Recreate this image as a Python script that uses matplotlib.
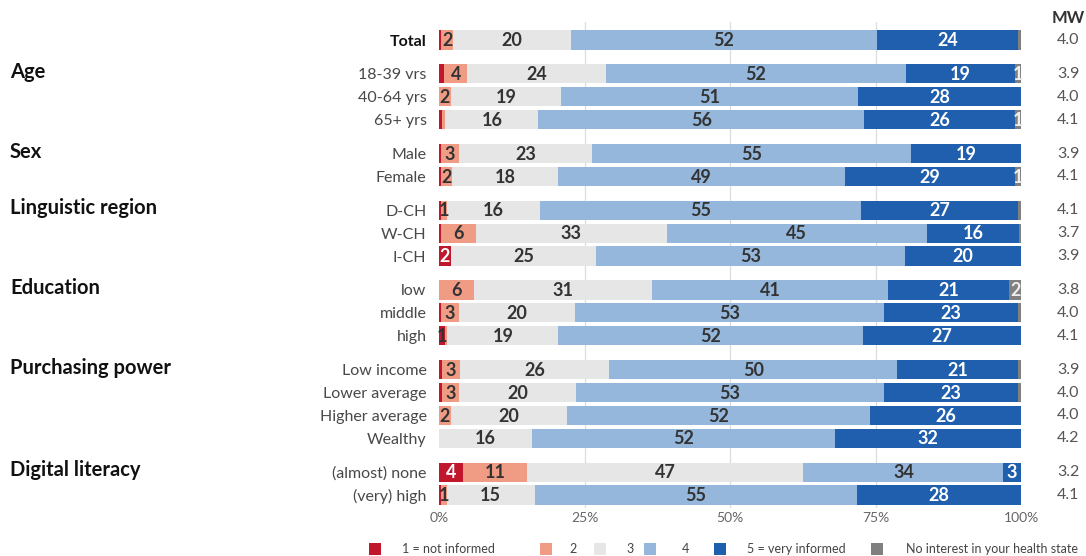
import numpy as np
import matplotlib
matplotlib.use("Agg")
import matplotlib.pyplot as plt
import matplotlib.transforms as mtransforms
from matplotlib.patches import Rectangle

plt.rcParams['font.family'] = ['Lato', 'DejaVu Sans']

# ---- data -------------------------------------------------------------
group_names = ["", "Age", "Sex", "Linguistic region", "Education",
               "Purchasing power", "Digital literacy"]
group_rows = [
    ["Total"],
    ["18-39 vrs", "40-64 yrs", "65+ yrs"],
    ["Male", "Female"],
    ["D-CH", "W-CH", "I-CH"],
    ["low", "middle", "high"],
    ["Low income", "Lower average", "Higher average", "Wealthy"],
    ["(almost) none", "(very) high"],
]

not_informed    = [0.4, 0.9, 0.0, 0.5, 0.4, 0.3, 0.3, 0.4, 2.0, 0.0, 0.4, 1.0, 0.6, 0.5, 0.0, 0.0, 4.0, 0.3]
rather_not      = [2.0, 4.0, 2.0, 0.6, 3.0, 2.0, 1.0, 6.0, 0.0, 6.0, 3.0, 0.4, 3.0, 3.0, 2.0, 0.0, 11.0, 1.0]
neutral         = [20, 24, 19, 16, 23, 18, 16, 33, 25, 31, 20, 19, 26, 20, 20, 16, 47, 15]
rather_informed = [52, 52, 51, 56, 55, 49, 55, 45, 53, 41, 53, 52, 50, 53, 52, 52, 34, 55]
very_informed   = [24, 19, 28, 26, 19, 29, 27, 16, 20, 21, 23, 27, 21, 23, 26, 32, 3, 28]
no_interest     = [0.5, 1.0, 0.0, 1.0, 0.0, 1.0, 0.5, 0.3, 0.0, 2.0, 0.5, 0.0, 0.5, 0.5, 0.0, 0.0, 0.0, 0.0]

mean_values = ["4.0", "3.9", "4.0", "4.1", "3.9", "4.1", "4.1", "3.7", "3.9",
               "3.8", "4.0", "4.1", "3.9", "4.0", "4.0", "4.2", "3.2", "4.1"]

series_names = ["1 = not informed", "2", "3", "4", "5 = very informed",
                "No interest in your health state"]
series_values = [not_informed, rather_not, neutral, rather_informed,
                 very_informed, no_interest]
colors = ["#c0172d", "#f09c85", "#e6e6e6", "#94b7db", "#1f5fad", "#808080"]
label_colors = ["white", "#333333", "#333333", "#333333", "white", "#eeeeee"]

# ---- layout of rows (groups separated by a small gap) -----------------
gap = 0.48
positions, labels, group_pos = [], [], []
y = 0.0
for gi, rows in enumerate(group_rows):
    if gi > 0:
        y += gap
    group_pos.append(y)
    for r in rows:
        positions.append(y)
        labels.append(r)
        y += 1.0
positions = np.array(positions)

vals = np.array(series_values, dtype=float)          # (series, rows)
shares = vals / vals.sum(axis=0) * 100.0

W, H = 1086, 556
fig = plt.figure(figsize=(W / 100, H / 100), dpi=100)
ax = fig.add_axes([439 / W, (H - 508) / H, 582 / W, 486 / H])

pitch = 22.89
ax.set_ylim((508 - 40) / pitch, -(40 - 22) / pitch)
ax.set_xlim(0, 100)

for gx in (25, 50, 75):
    ax.axvline(gx, color="#dddddd", lw=0.9, zorder=0)

left = np.zeros(len(positions))
for si in range(len(series_values)):
    ax.barh(positions, shares[si], left=left, height=0.84,
            color=colors[si], edgecolor="none", zorder=2)
    for ri in range(len(positions)):
        v = vals[si, ri]
        if v >= 1:
            c = label_colors[si]
            if si == 0 and v < 2:
                c = "#333333"
            ax.text(left[ri] + shares[si, ri] / 2, positions[ri] + 0.03,
                    f"{v:.0f}", ha="center", va="center", fontsize=13,
                    fontweight="bold", color=c, zorder=3)
    left += shares[si]

for s in ax.spines.values():
    s.set_visible(False)

ax.set_xticks([0, 25, 50, 75, 100])
ax.set_xticklabels(["0%", "25%", "50%", "75%", "100%"])
ax.tick_params(axis="x", length=0, pad=3, labelsize=10, labelcolor="#666666")

ax.set_yticks(positions)
ax.set_yticklabels(labels)
ax.tick_params(axis="y", length=0, pad=9, labelsize=11.5, labelcolor="#484848")
for t in ax.get_yticklabels():
    if t.get_text() == "Total":
        t.set_fontweight("bold")
        t.set_color("#111111")

# group headings
trans_left = mtransforms.blended_transform_factory(fig.transFigure, ax.transData)
for name, gp in zip(group_names, group_pos):
    if name:
        fig.text(10 / W, gp - 0.08, name, transform=trans_left, ha="left",
                 va="center", fontsize=14.5, fontweight="bold", color="#111111")

# mean column
fig.text(1068 / W, -0.98, "MW", transform=trans_left, ha="center", va="center",
         fontsize=12, fontweight="bold", color="#333333")
for p, m in zip(positions, mean_values):
    fig.text(1068 / W, p, m, transform=trans_left, ha="center", va="center",
             fontsize=11.5, color="#555555")

# legend row
lax = fig.add_axes([0, 0, 1, 1])
lax.set_xlim(0, W)
lax.set_ylim(H, 0)
lax.axis("off")
key_x = [369, 540, 594, 644, 714, 871]
text_x = [402, 569, 626, 682, 747, 906]
for kx, tx, col, name in zip(key_x, text_x, colors, series_names):
    lax.add_patch(Rectangle((kx, 543), 12, 12, facecolor=col, edgecolor="none"))
    lax.text(tx, 549, name, ha="left", va="center", fontsize=9, color="#444444")

fig.savefig("out.png", dpi=100)
